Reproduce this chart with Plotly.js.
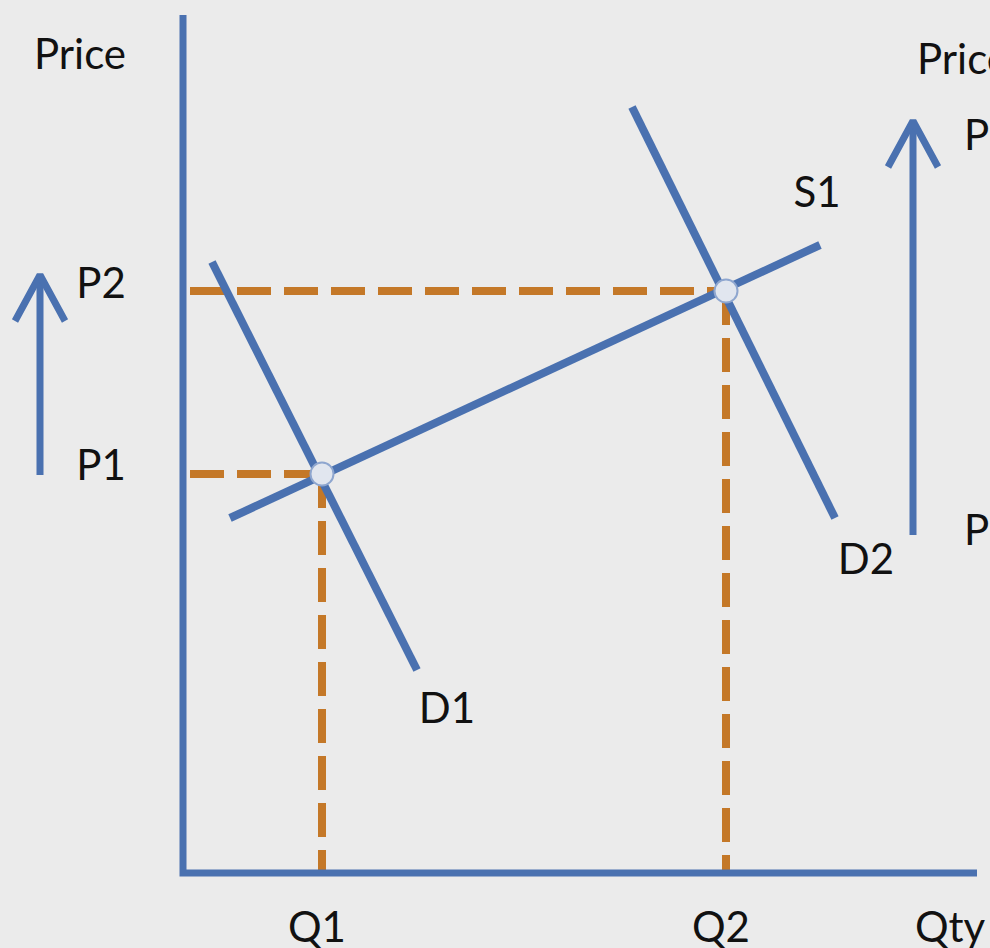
<!DOCTYPE html>
<html>
<head>
<meta charset="utf-8">
<script src="https://cdn.plot.ly/plotly-3.0.1.min.js"></script>
<style>
  html, body { margin: 0; padding: 0; background: #ebebeb; overflow: hidden; }
  #chart { width: 990px; height: 948px; }
</style>
</head>
<body>
<div id="chart"></div>
<script>
// Market diagram: demand shifts from D1 to D2 along supply curve S1.
// Quantity and price in arbitrary units.

// Axes extent
const qtyAxisEnd = 79.4;
const priceAxisTop = 85.8;

// Equilibria
const eqQty = [13.9, 54.3];     // Q1, Q2
const eqPrice = [39.9, 58.2];   // P1, P2

// Curve end points
const supplyQ = [4.7, 63.7];
const supplyP = [35.5, 62.8];
const demand1Q = [2.9, 23.4];
const demand1P = [61.1, 20.3];
const demand2Q = [44.9, 65.2];
const demand2P = [76.6, 35.5];

// Price-rise arrows: [x, bottom, tip]
const arrowLeft = [-14.3, 39.8, 59.8];
const arrowRight = [73.0, 33.8, 75.2];

// Centred text labels
const labelText = ['Price', 'Price', 'P2', 'P1', 'Q1', 'Q2', 'Qty', 'S1', 'D1', 'D2'];
const labelQ = [-10.3, 78.0, -8.2, -8.2, 13.4, 53.8, 76.7, 63.4, 26.4, 68.3];
const labelP = [81.5, 81.0, 58.6, 40.4, -5.8, -5.8, -5.8, 67.7, 16.1, 31.0];

// Price labels beside the right-hand arrow (left-aligned)
const sideText = ['P2', 'P1'];
const sideQ = [78.1, 78.1];
const sideP = [73.4, 33.9];

const BLUE = '#4a71b0';
const ORANGE = '#c47828';
const FONT = 'Lato, "Open Sans", sans-serif';

const traces = [];

// Guide lines from each equilibrium to the axes
const dashStyle = { color: ORANGE, width: 8, dash: '34px,13px' };
for (let i = 0; i < eqQty.length; i++) {
  traces.push({
    x: [0.7, eqQty[i]], y: [eqPrice[i], eqPrice[i]],
    mode: 'lines', line: dashStyle, hoverinfo: 'skip'
  });
  traces.push({
    x: [eqQty[i], eqQty[i]], y: [eqPrice[i], 0],
    mode: 'lines', line: dashStyle, hoverinfo: 'skip'
  });
}

// Axes
traces.push({
  x: [0, 0, qtyAxisEnd], y: [priceAxisTop, 0, 0],
  mode: 'lines', line: { color: BLUE, width: 7 }, hoverinfo: 'skip'
});

// Curves
const curve = { color: BLUE, width: 8 };
traces.push({ x: demand1Q, y: demand1P, mode: 'lines', line: curve, hoverinfo: 'skip' });
traces.push({ x: demand2Q, y: demand2P, mode: 'lines', line: curve, hoverinfo: 'skip' });
traces.push({ x: supplyQ, y: supplyP, mode: 'lines', line: curve, hoverinfo: 'skip' });

// Arrows
function arrow(a) {
  const hw = 2.5, hh = 4.6;
  traces.push({
    x: [a[0], a[0]], y: [a[1], a[2]],
    mode: 'lines', line: { color: BLUE, width: 7 }, hoverinfo: 'skip'
  });
  traces.push({
    x: [a[0] - hw, a[0], a[0] + hw], y: [a[2] - hh, a[2], a[2] - hh],
    mode: 'lines', line: { color: BLUE, width: 7 }, hoverinfo: 'skip'
  });
}
arrow(arrowLeft);
arrow(arrowRight);

// Equilibrium points
traces.push({
  x: eqQty, y: eqPrice, mode: 'markers',
  marker: { size: 23, color: '#e1e6ef', line: { color: '#8ea6cf', width: 2 } },
  hoverinfo: 'skip'
});

// Labels
const textFont = { family: FONT, size: 42, color: '#111111' };
traces.push({
  x: labelQ, y: labelP, text: labelText, mode: 'text',
  textposition: 'middle center', cliponaxis: false,
  textfont: textFont, hoverinfo: 'skip'
});
traces.push({
  x: sideQ, y: sideP, text: sideText, mode: 'text',
  textposition: 'middle right', cliponaxis: false,
  textfont: textFont, hoverinfo: 'skip'
});

const layout = {
  width: 990, height: 948,
  margin: { l: 0, r: 0, t: 0, b: 0 },
  paper_bgcolor: '#ebebeb', plot_bgcolor: '#ebebeb',
  showlegend: false,
  xaxis: { range: [-18.3, 80.7], visible: false, fixedrange: true },
  yaxis: { range: [-7.5, 87.3], visible: false, fixedrange: true }
};

Plotly.newPlot('chart', traces, layout, { staticPlot: true });
</script>
</body>
</html>
